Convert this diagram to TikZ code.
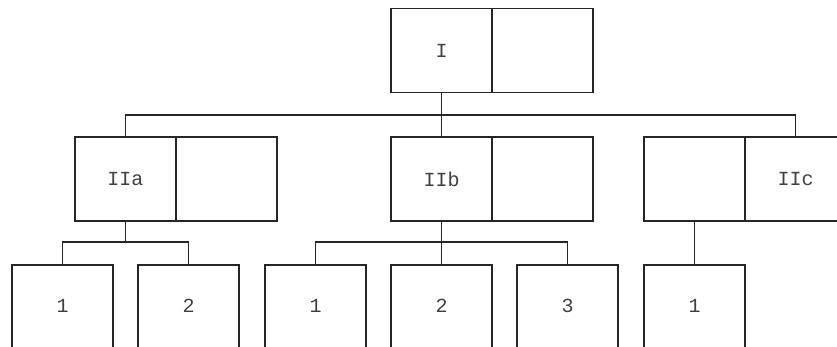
\documentclass[tikz,border=0pt]{standalone}
\usepackage{fontspec}
\setmonofont{Liberation Mono}
\begin{document}
\begin{tikzpicture}[x=1pt,y=-1pt,
  txt/.style={font=\fontsize{20}{22}\selectfont\ttfamily, text=black!75},
  cell/.style={draw=black!85, line width=1.6pt, minimum width=101pt, minimum height=84pt, inner sep=0pt, txt},
  leaf/.style={cell, minimum height=130pt},
  link/.style={draw=black!85, line width=1.6pt}]
\useasboundingbox (0,0) rectangle (837,347);
\clip (0,0) rectangle (837,347);
% level I
\node[cell] (Il) at (441.5,50.5) {I};
\node[cell] (Ir) at (542.5,50.5) {};
% level II
\node[cell] (IIal) at (125.5,179) {IIa};
\node[cell] (IIar) at (226.5,179) {};
\node[cell] (IIbl) at (441.5,179) {IIb};
\node[cell] (IIbr) at (542.5,179) {};
\node[cell] (IIcl) at (694.5,179) {};
\node[cell] (IIcr) at (795.5,179) {IIc};
% leaves (top edge at 264)
\node[leaf, anchor=north] (a1) at (62.5,264) {};
\node[leaf, anchor=north] (a2) at (188.5,264) {};
\node[leaf, anchor=north] (b1) at (315.5,264) {};
\node[leaf, anchor=north] (b2) at (441.5,264) {};
\node[leaf, anchor=north] (b3) at (567.5,264) {};
\node[leaf, anchor=north] (c1) at (694.5,264) {};
\node[txt] (ta1) at (62.5,306) {1};
\node[txt] (ta2) at (188.5,306) {2};
\node[txt] (tb1) at (315.5,306) {1};
\node[txt] (tb2) at (441.5,306) {2};
\node[txt] (tb3) at (567.5,306) {3};
\node[txt] (tc1) at (694.5,306) {1};
% buses
\coordinate (bus1) at (0,115);
\coordinate (busa) at (0,242);
% connectors
\draw[link] (Il.south) -- (Il.south |- bus1);
\draw[link] (IIal.north) |- (IIcr.north |- bus1) -- (IIcr.north);
\draw[link] (IIbl.north) -- (IIbl.north |- bus1);
\draw[link] (IIal.south) -- (IIal.south |- busa);
\draw[link] (a1.north) |- (a2.north |- busa) -- (a2.north);
\draw[link] (IIbl.south) -- (IIbl.south |- busa);
\draw[link] (b1.north) |- (b3.north |- busa) -- (b3.north);
\draw[link] (b2.north) -- (b2.north |- busa);
\draw[link] (IIcl.south) -- (c1.north);
\end{tikzpicture}
\end{document}
